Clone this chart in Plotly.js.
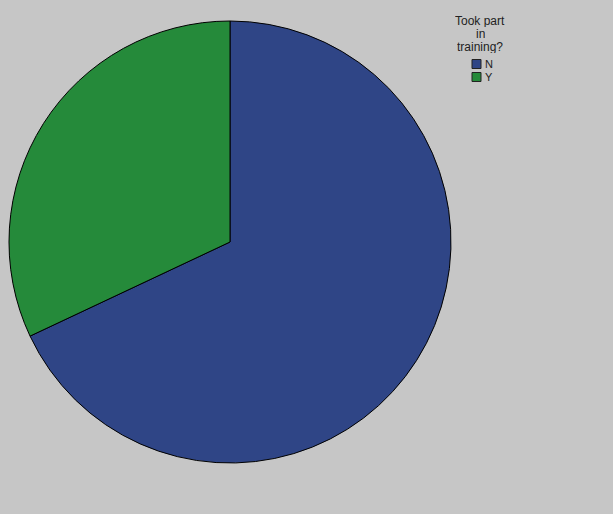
<!DOCTYPE html>
<html>
<head>
<meta charset="utf-8">
<script src="https://cdn.plot.ly/plotly-3.0.1.min.js"></script>
<style>html,body{margin:0;padding:0;background:#c6c6c6;}#chart{width:613px;height:514px;}</style>
</head>
<body>
<div id="chart"></div>
<script>
const categories = ["N", "Y"];
const values = [68, 32];
const colors = ["#2f4586", "#258a3a"];
const legendTitleLines = ["Took part", "in", "training?"];

const W = 613, H = 514;
const cx = 230, cy = 242, r = 221;
const px = x => x / W;
const py = y => 1 - y / H;

const data = [{
  type: "pie",
  labels: categories,
  values: values,
  sort: false,
  direction: "clockwise",
  rotation: 0,
  textinfo: "none",
  hoverinfo: "label+percent",
  showlegend: false,
  marker: {colors: colors, line: {color: "#000000", width: 1}},
  domain: {x: [px(cx - r), px(cx + r)], y: [py(cy + r), py(cy - r)]}
}];

// Custom compact legend, like the original
const annotations = [];
const shapes = [];
const legCx = 480, titleTop = 21.5, titleStep = 12.5;
legendTitleLines.forEach((t, i) => {
  annotations.push({
    xref: "paper", yref: "paper", x: px(legCx), y: py(titleTop + i * titleStep),
    xanchor: "center", yanchor: "middle", showarrow: false, text: t,
    height: 12, valign: "middle",
    font: {family: "Liberation Sans, Arial, sans-serif", size: 12, color: "#222"}
  });
});
const itemTop = 64, itemStep = 13, sq = 9, sqX = 472;
categories.forEach((c, i) => {
  const yc = itemTop + i * itemStep;
  shapes.push({
    type: "rect", xref: "paper", yref: "paper",
    x0: px(sqX), x1: px(sqX + sq), y0: py(yc + sq / 2), y1: py(yc - sq / 2),
    fillcolor: colors[i], line: {color: "#222", width: 1}
  });
  annotations.push({
    xref: "paper", yref: "paper", x: px(sqX + sq + 2), y: py(yc),
    xanchor: "left", yanchor: "middle", showarrow: false, text: c,
    font: {family: "Liberation Sans, Arial, sans-serif", size: 11, color: "#222"}
  });
});

const layout = {
  width: W, height: H,
  margin: {l: 0, r: 0, t: 0, b: 0},
  paper_bgcolor: "#c6c6c6",
  plot_bgcolor: "#c6c6c6",
  showlegend: false,
  font: {family: "Liberation Sans, Arial, sans-serif", size: 11, color: "#222"},
  annotations: annotations,
  shapes: shapes
};

Plotly.newPlot("chart", data, layout, {displayModeBar: false, staticPlot: true});
</script>
</body>
</html>
